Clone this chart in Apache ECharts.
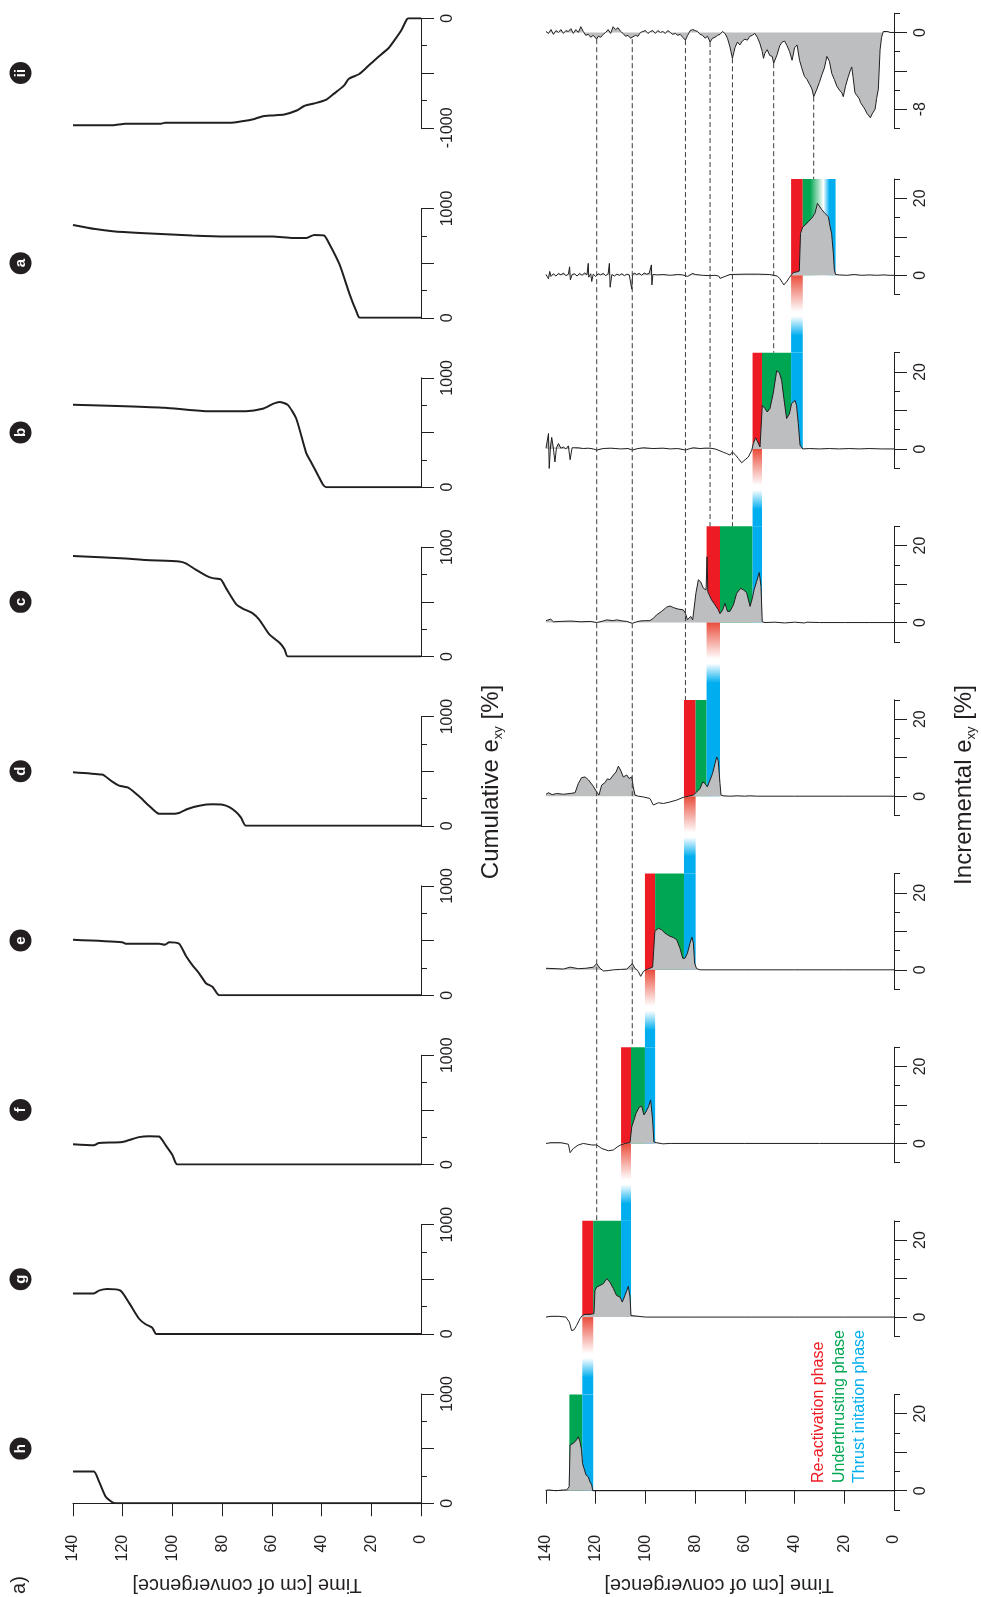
<!DOCTYPE html>
<html><head><meta charset="utf-8">
<script src="https://cdn.jsdelivr.net/npm/echarts@6/dist/echarts.min.js"></script>
<style>html,body{margin:0;padding:0;background:#fff}#c{width:981px;height:1597px}</style>
</head><body><div id="c"></div>
<script>
// ---------------- DATA ----------------
const panels = ['ii','a','b','c','d','e','f','g','h'];
const timeTicks = [0,20,40,60,80,100,120,140];

// cumulative exy [%]  ([time, value])
const cumII = [[140,-977],[124,-977],[119,-964],[105,-964],[103,-955],[77,-955],[72,-941],[67,-919],[64,-896],[60,-887],[55,-878],[50,-842],[47,-801],[43,-778],[38,-742],[35,-688],[31,-615],[29,-552],[25,-511],[22,-452],[19,-389],[16,-330],[13,-271],[10.5,-195],[7.8,-104],[5.8,-14],[5,0],[0,0]];
const cumA = [[140,850],[131,812],[124,792],[113,776],[92,753],[78.5,744],[59.6,744],[51.5,731],[46,731],[43,758],[39,753],[36.7,668],[32.7,484],[28.7,215],[26,58],[24.6,0],[0,0]];
const cumB = [[140,753],[119,740],[103,726],[86.5,695],[70.4,695],[63.7,717],[59.6,762],[56.9,780],[53.6,753],[50.2,628],[46.2,314],[44.1,224],[41.5,112],[39.4,22],[38.1,0],[0,0]];
const cumC = [[140,919],[118.8,897],[110.8,883],[97.3,870],[94.6,852],[90.6,794],[86.5,740],[83.8,717],[80.5,704],[78.5,628],[74.4,480],[71.7,439],[67.7,395],[65,336],[61,202],[56.9,126],[54.9,67],[53.6,0],[0,0]];
const cumD = [[140,491],[128.3,469],[126.9,452],[124.2,404],[121.5,368],[117.5,346],[113.5,272],[109.4,184],[105.4,110],[101.3,110],[97.3,118],[93.9,154],[89.2,184],[83.8,197],[79.8,193],[77.1,171],[74.4,127],[72.4,75],[70.4,0],[0,0]];
const cumE = [[140,507],[120.2,485],[118.8,471],[105.4,471],[103,462],[101.3,485],[97.3,471],[94.6,361],[91.9,273],[89.2,198],[86.5,110],[83.8,75],[81.2,0],[0,0]];
const cumF = [[140,185],[131.6,176],[129.6,198],[120.2,207],[113.5,251],[109.4,260],[105.4,256],[102.7,176],[100,88],[98,0],[0,0]];
const cumG = [[140,370],[131.6,370],[129.6,396],[126.2,410],[120.9,396],[117.5,286],[113.5,141],[110.8,88],[108.1,57],[106.5,0],[0,0]];
const cumH = [[140,291],[131.6,291],[129.6,203],[126.9,62],[124.2,9],[122.9,0],[0,0]];

// incremental exy [%]
const incII = [[140,0.1],[139,-0.1],[138,0.3],[137,-0.2],[136,0.2],[135,0.0],[134,0.3],[133,-0.1],[132,0.2],[131,0.1],[130,0.4],[129,-0.1],[128,0.3],[127,0.0],[126,0.6],[125,0.1],[124,-0.3],[123,-0.2],[122,-0.5],[121,-0.3],[119.6,-0.7],[119,-0.4],[118,-0.5],[117,-0.2],[116,0.0],[115,0.3],[114,-0.1],[113,0.6],[112,0.3],[111,0.5],[110,0.1],[109,-0.1],[108,-0.4],[107,-0.3],[106,-0.6],[105.3,-0.7],[104,-0.3],[103,-0.4],[102,0.0],[101,0.1],[100,0.2],[99,-0.1],[98,0.1],[97,0.2],[96,-0.1],[95,0.2],[94,0.0],[93,0.1],[92,-0.1],[91,0.2],[90,0.0],[89,-0.2],[88,-0.1],[87,-0.3],[86,-0.2],[85,-0.5],[83.9,-0.8],[83,-0.3],[82,0.2],[81,0.3],[80,0.2],[79,0.1],[78,-0.2],[77,-0.3],[76,-0.6],[75,-0.4],[74,-1.0],[73,-0.6],[72,-0.5],[71,-0.3],[70,-0.2],[69,0.1],[68,-0.1],[67,-0.6],[66,-1.5],[65,-2.7],[64,-1.6],[63,-1.0],[62,-1.3],[61,-0.9],[60,-0.7],[59,-0.8],[58,-0.4],[57,-0.3],[56,-0.1],[55,-0.5],[54,-1.1],[53,-2.0],[52.5,-2.7],[52,-2.2],[51,-1.8],[50,-2.4],[49,-2.5],[48.4,-3.2],[47,-2.3],[46,-1.4],[45,-1.0],[44,-0.9],[43,-1.4],[42,-2.0],[41,-2.9],[40,-1.6],[39,-1.3],[38,-2.9],[37,-3.8],[36,-4.6],[35,-4.9],[34,-5.4],[33,-5.9],[32.3,-6.7],[31,-5.9],[30,-5.2],[29,-4.4],[28,-3.7],[27,-2.5],[26.5,-2.3],[26,-3.0],[25,-4.3],[24,-4.9],[23,-5.6],[22,-6.0],[21,-6.3],[20.4,-6.7],[19.5,-5.6],[18.5,-4.7],[17.5,-3.9],[17,-3.6],[16.5,-4.6],[15.7,-6.3],[15,-6.5],[14,-6.9],[13.5,-7.3],[12.5,-7.7],[11.7,-8.0],[11,-8.4],[10.3,-8.3],[9.5,-8.9],[8.8,-8.5],[8.3,-8.7],[7.6,-8.0],[7.0,-6.9],[6.3,-5.9],[5.6,-1.8],[5.0,-0.5],[4.3,0.1],[3.6,0.2],[2.5,0.1],[1.6,0.0],[0.8,0.1],[0,0.0]];
const incA = [[140,0.2],[139,-0.9],[138.5,1.0],[138,-0.3],[137,0.4],[136,-0.2],[135,0.5],[134,0.1],[133,0.6],[132,-0.1],[131,0.3],[130.5,2.2],[130.2,-1.2],[129.5,0.2],[128.5,0.4],[127.5,-0.2],[126.5,0.5],[125.5,0.0],[124.5,0.6],[123.5,0.2],[123,3.1],[122.8,-0.5],[122,0.4],[121.6,-1.6],[121,0.3],[120,-0.3],[119,0.4],[118,0.1],[117,0.5],[116,-0.1],[115,0.4],[114.5,3.1],[114.2,-3.1],[113.5,0.2],[112.5,-0.2],[111.5,0.3],[110.5,0.0],[109.5,0.4],[108.5,-0.1],[107.5,0.3],[106.5,0.1],[105.7,0.3],[105.5,-3.6],[105.2,0.0],[104.5,0.6],[103.5,0.2],[102.5,0.5],[101.5,0.0],[100.5,0.6],[99.5,0.3],[98.5,0.5],[97.8,0.1],[97.6,2.7],[97.4,-2.5],[97,0.2],[95,0.1],[93,0.2],[90,0.0],[87,0.2],[85,0.1],[83,-0.3],[81,0.5],[80,0.2],[77,0.0],[74,-0.1],[72,0.0],[70.5,-0.2],[70,-0.8],[68,-0.3],[66,0.2],[60,0.3],[55,0.3],[50,0.2],[47,-0.2],[46,-0.8],[45,-1.8],[44.3,-2.5],[43,-1.5],[42,-0.5],[40.5,0.7],[39,0.9],[38.1,1.1],[37.6,10.9],[36.7,12.6],[35.8,13.0],[34.5,13.9],[33.1,14.8],[31.8,16.1],[30.8,18.7],[30,18.2],[29.1,17.1],[28.4,17.3],[27.8,16.1],[27,16.3],[26.4,15.2],[25.7,12.6],[25.1,10.9],[24.4,5.7],[24,1.4],[23.5,0.2],[22,0.1],[19,0.0],[16,0.2],[13,0.0],[10,0.1],[7,0.0],[4,0.1],[2,0.0],[0,0.0]];
const incB = [[140,0.2],[139,4.0],[138.7,-5.1],[138.2,0.5],[137.7,3.0],[137.1,0.5],[136.4,-3.4],[135.8,0.3],[135,1.4],[134,0.2],[133,0.5],[132,0.0],[131,0.8],[130.3,-2.8],[129.5,0.3],[129,0.0],[127,0.3],[125,0.1],[123,0.2],[121,0.0],[119.6,-0.3],[117,0.1],[114,0.2],[110,0.0],[107,0.1],[105.3,-0.3],[103,0.1],[100.8,0.3],[97,0.1],[93,0.2],[90,0.0],[87,0.1],[83.9,-0.3],[82,0.1],[80.7,0.3],[78,0.1],[76,0.2],[74,0.2],[72,0.0],[70,-0.5],[68.5,-0.9],[67.3,-1.2],[66,-1.6],[65,-0.8],[64,-1.4],[62.6,-2.5],[61.3,-3.6],[59.9,-2.8],[58.6,-2.1],[57.2,-0.3],[56.6,1.4],[55.7,2.9],[54.8,1.8],[53.9,0.5],[53.3,0.1],[53.0,11.3],[51.9,10.5],[51.0,9.6],[49.9,10.5],[48.6,14.4],[47.2,20.3],[46.1,19.8],[45.2,17.8],[44.3,13.1],[43.2,7.9],[42.1,9.1],[41.2,11.8],[39.8,12.6],[39.2,11.3],[38.5,6.6],[37.8,1.0],[36.7,0.0],[34,0.1],[30,0.0],[26,0.1],[22,0.0],[18,0.1],[14,0.0],[10,0.1],[5,0.0],[0,0.0]];
const incC = [[140,0.5],[138.1,0.9],[137,0.2],[134,0.3],[130,0.4],[126,0.2],[122,0.3],[119.6,0.0],[117,0.4],[115.6,0.7],[113,0.5],[111.6,0.7],[109,0.4],[107.5,0.3],[105.3,-0.2],[103.5,0.2],[102.2,0.4],[100,0.5],[98.2,0.5],[96.8,1.1],[95.5,2.0],[93.5,2.9],[91.5,4.0],[90.1,4.3],[88.8,3.9],[86.8,3.5],[84.8,3.3],[83.9,2.4],[83.1,0.7],[82.3,0.5],[81.8,1.6],[81.0,0.7],[80.5,3.3],[79.7,7.6],[78.7,11.1],[77.8,10.6],[76.7,8.9],[75.6,8.5],[75.2,17.1],[74.9,8.0],[73.4,5.9],[72.0,4.6],[70.7,3.3],[70.0,2.3],[68.9,3.3],[68.0,5.0],[67.0,2.9],[66.0,2.9],[64.6,4.6],[63.3,7.6],[61.7,8.9],[60.6,8.5],[59.3,7.8],[57.9,4.2],[57.0,6.3],[56.3,8.5],[55.3,10.6],[54.2,13.0],[53.5,9.4],[53.0,0.2],[51.9,0.0],[48,0.1],[44,-0.1],[40,0.1],[36,-0.1],[35,0.1],[30,0.0],[20,0.0],[10,0.0],[0,0.0]];
const incD = [[140,0.5],[139,0.9],[137.5,0.4],[135.7,0.7],[133,0.5],[130.3,0.7],[128.3,0.9],[127,3.3],[125.7,4.8],[124.3,5.0],[123,4.3],[121,2.6],[119.6,1.1],[118.7,0.3],[117.6,2.9],[116.3,3.5],[115.3,4.5],[114.3,4.3],[112.9,5.5],[111.8,6.3],[110.9,7.8],[110,6.8],[108.9,5.0],[107.5,5.5],[106.6,4.6],[105.5,5.0],[104.9,2.4],[104.2,0.3],[102.9,0.0],[100.8,-0.2],[98.2,-0.6],[96.8,-2.3],[96.2,-2.8],[94.8,-1.7],[92.8,-1.9],[90.1,-1.5],[87.4,-1.0],[84.8,-0.3],[82.7,0.0],[80.7,0.3],[79.4,1.1],[78,2.0],[77,3.7],[76,3.3],[75.1,2.4],[74,4.2],[73,5.9],[72,8.5],[71.3,10.2],[70.7,9.2],[70,3.3],[69.6,0.3],[68.7,0.1],[66,0.0],[63,0.1],[60,0.0],[58,0.1],[55,0.0],[40,0.0],[20,0.0],[0,0.0]];
const incE = [[140,0.4],[136,0.3],[133,0.2],[130.3,0.7],[127,0.3],[124,0.4],[121,0.7],[119.6,1.6],[118.3,0.4],[116.9,-0.3],[115,-0.2],[112.9,0.0],[110,0.1],[107.5,0.2],[105.3,1.6],[104.2,0.4],[102.9,-0.4],[101.9,-1.7],[100.8,-0.4],[99.8,0.0],[98.2,0.4],[97.1,0.7],[96.2,10.0],[94.8,10.8],[93.5,10.4],[92.1,9.5],[90.1,8.7],[88.8,8.4],[87.4,7.8],[86.1,5.6],[85.0,3.0],[84.1,3.0],[83.1,4.3],[82.1,6.9],[81.3,8.5],[80.7,6.9],[80.2,1.7],[79.4,0.3],[78,0.0],[70,0.0],[60,0.0],[40,0.0],[20,0.0],[0,0.0]];
const incF = [[140,0.0],[138,0.2],[134,0.2],[131,-0.2],[130.3,-2.4],[129,-1.3],[127,-0.4],[125,0.0],[121.6,-0.4],[119.6,-0.4],[117.6,-1.3],[114.9,-1.9],[112.9,-1.7],[111.3,-0.9],[110,-0.4],[108.2,0.0],[106.2,0.2],[105.5,4.3],[104.6,6.1],[103.8,7.8],[102.5,9.4],[101.5,9.7],[100.6,7.4],[99.8,8.2],[98.8,9.5],[97.9,11.3],[97.1,6.1],[96.6,0.4],[95.5,0.2],[93,-0.1],[90,0.0],[60,0.0],[30,0.0],[0,0.0]];
const incG = [[140,0.0],[138,0.2],[135,0.2],[132,0.0],[130.6,-1.3],[129.7,-3.5],[128.7,-3.3],[127.7,-2.2],[126.3,-0.4],[125.4,0.4],[124.3,0.7],[122.3,0.7],[120.7,0.9],[120.3,6.9],[119.6,7.8],[118.3,8.2],[116.9,8.7],[115.6,10.0],[114.3,9.1],[112.9,7.4],[111.6,5.6],[110.2,5.2],[109.3,3.9],[108.5,5.2],[107.5,6.9],[106.9,8.0],[106.2,5.2],[105.8,0.4],[105.4,0.0],[100,0.0],[80,0.0],[60,0.0],[40,0.0],[20,0.0],[0,0.0]];
const incH = [[140,0.1],[139.1,0.2],[136,0.0],[133,0.2],[131.7,0.2],[130.7,1.0],[130.3,11.9],[129.7,11.5],[129,12.3],[127.7,13.2],[127,14.0],[126.3,12.7],[125.7,10.6],[125.3,7.1],[124.7,5.8],[123.9,4.1],[123,3.6],[122.3,2.3],[121.6,1.5],[121.2,0.0],[110,0.0],[80,0.0],[40,0.0],[0,0.0]];

// phases: [from time, to time, phase]
const phaseA = [[41.4,36.7,'red'],[36.7,28.4,'greenFade'],[28.4,23.5,'blueFade']];
const phaseB = [[56.9,53.1,'red'],[53.1,41.4,'green'],[41.4,36.7,'blue']];
const phaseC = [[75.4,70.0,'red'],[70.0,56.9,'green'],[56.9,53.1,'blue']];
const phaseD = [[84.5,79.8,'red'],[79.8,75.4,'green'],[75.4,70.0,'blue']];
const phaseE = [[100.2,96.1,'red'],[96.1,84.5,'green'],[84.5,79.8,'blue']];
const phaseF = [[109.8,105.8,'red'],[105.8,100.2,'green'],[100.2,96.1,'blue']];
const phaseG = [[125.4,121.0,'red'],[121.0,109.8,'green'],[109.8,105.8,'blue']];
const phaseH = [[130.6,125.4,'green'],[125.4,121.0,'blue']];

// dashed correlation lines from panel ii
const dashT  = [119.6, 105.3, 83.9, 74.0, 65.0, 48.4, 32.3];
const dashV  = [-0.7, -0.7, -0.8, -1.0, -2.7, -3.2, -6.7];
const dashTo = ['g','f','d','c','c','b','a'];

const legendItems = ['Re-activation phase','Underthrusting phase','Thrust initation phase'];

// ---------------- STYLE / LAYOUT ----------------
const FONT = '"Liberation Sans", Arial, Helvetica, sans-serif';
const INK = '#231f20';
const RED = '#ed1c24', GREEN = '#00a651', BLUE = '#00aeef', GRAY = '#bcbec0';
const CUM = [cumII,cumA,cumB,cumC,cumD,cumE,cumF,cumG,cumH];
const INC = [incII,incA,incB,incC,incD,incE,incF,incG,incH];
const PH = [null,phaseA,phaseB,phaseC,phaseD,phaseE,phaseF,phaseG,phaseH];

const LX = 73, RX = 546, W = 348;
const leftTop = k => k === 0 ? 18.3 : 208.5 + (k - 1) * 169.35;
const leftH = k => k === 0 ? 109.5 : 109.3;
const RUNIT = 3.85, RSPACE = 173.63;
const rightTop = k => k === 0 ? 13.3 : 179.05 + (k - 1) * RSPACE;
const rightH = k => k === 0 ? 115 : 30 * RUNIT;

const grids = [], xAxes = [], yAxes = [], series = [];
const axisLineStyle = {color: INK, width: 1};
const labelBase = {color: INK, fontFamily: FONT, fontSize: 16, rotate: 90};

for (let col = 0; col < 2; col++) {
  for (let k = 0; k < 9; k++) {
    const gi = col * 9 + k;
    grids.push({left: col ? RX : LX, width: W, top: col ? rightTop(k) : leftTop(k), height: col ? rightH(k) : leftH(k)});
    xAxes.push({
      gridIndex: gi, type: 'value', min: 0, max: 140, interval: 20, inverse: true,
      show: k === 8, offset: (k === 8 && col === 0) ? 6.5 : 0,
      axisLine: {show: true, lineStyle: axisLineStyle},
      axisTick: {show: true, length: 13, lineStyle: axisLineStyle},
      axisLabel: Object.assign({}, labelBase, {margin: 25}),
      splitLine: {show: false}
    });
  }
}
// left y axes
for (let k = 0; k < 9; k++) {
  const ii = k === 0;
  yAxes.push({
    gridIndex: k, type: 'value', position: 'right',
    min: ii ? -1000 : 0, max: ii ? 0 : 1000, interval: 500,
    axisLine: {show: true, lineStyle: axisLineStyle},
    axisTick: {show: true, length: 13, lineStyle: axisLineStyle},
    minorTick: {show: true, splitNumber: 2, length: 6, lineStyle: axisLineStyle},
    axisLabel: Object.assign({}, labelBase, {margin: 19, formatter: v => (Math.abs(v) === 1000 || v === 0) ? String(v) : ''}),
    splitLine: {show: false}, minorSplitLine: {show: false}
  });
}
// right y axes (main)
for (let k = 0; k < 9; k++) {
  const ii = k === 0;
  yAxes.push({
    gridIndex: 9 + k, type: 'value', position: 'right',
    min: ii ? -10 : -5, max: ii ? 2 : 25, interval: ii ? 2 : 5,
    axisLine: {show: true, lineStyle: axisLineStyle},
    axisTick: {show: true, length: 13, lineStyle: axisLineStyle, customValues: ii ? [0,-4,-8] : [0,10,20]},
    axisLabel: Object.assign({}, labelBase, {margin: 19, customValues: ii ? [0,-8] : [0,20]}),
    splitLine: {show: false}
  });
}
// right y axes (short ticks overlay)
for (let k = 0; k < 9; k++) {
  const ii = k === 0;
  yAxes.push({
    gridIndex: 9 + k, type: 'value', position: 'right', offset: 0,
    min: ii ? -10 : -5, max: ii ? 2 : 25, interval: ii ? 2 : 5,
    axisLine: {show: false},
    axisTick: {show: true, length: 6, lineStyle: axisLineStyle, customValues: ii ? [2,-2,-6,-10] : [-5,5,15,25]},
    axisLabel: {show: false},
    splitLine: {show: false}
  });
}

// cumulative lines
for (let k = 0; k < 9; k++) {
  series.push({
    type: 'line', xAxisIndex: k, yAxisIndex: k, data: CUM[k], showSymbol: false, smooth: 0.2,
    lineStyle: {color: INK, width: 2}, z: 3, silent: true
  });
}

function phaseFill(p) {
  const G = echarts.graphic.LinearGradient;
  if (p === 'red') return RED;
  if (p === 'green') return GREEN;
  if (p === 'blue') return BLUE;
  if (p === 'greenFade') return new G(0,0,1,0,[{offset:0,color:GREEN},{offset:0.35,color:GREEN},{offset:1,color:'#ffffff'}]);
  if (p === 'blueFade') return new G(0,0,1,0,[{offset:0,color:'#ffffff'},{offset:0.5,color:BLUE},{offset:1,color:BLUE}]);
}

// phase bars + gradient strips
for (let k = 1; k < 9; k++) {
  const gi = 9 + k;
  const ph = PH[k];
  series.push({
    type: 'custom', xAxisIndex: gi, yAxisIndex: gi, z: 1, silent: true,
    data: ph.map(p => [p[0], p[1]]),
    renderItem: (params, api) => {
      const p = ph[params.dataIndex];
      const a = api.coord([p[0], 25]), b = api.coord([p[1], 0]);
      return {type: 'rect', shape: {x: a[0], y: a[1], width: b[0] - a[0], height: b[1] - a[1]}, style: {fill: phaseFill(p[2])}};
    }
  });
  const red = ph.find(p => p[2] === 'red');
  if (red && k < 8) {
    const vBottom = 25 - RSPACE / RUNIT; // next panel's top, in this panel's scale
    series.push({
      type: 'custom', xAxisIndex: gi, yAxisIndex: gi, z: 1, silent: true, clip: false,
      data: [[red[0], red[1]]],
      renderItem: (params, api) => {
        const a = api.coord([api.value(0), 0]), b = api.coord([api.value(1), vBottom]);
        return {type: 'rect', shape: {x: a[0], y: a[1], width: b[0] - a[0], height: b[1] - a[1]},
          style: {fill: new echarts.graphic.LinearGradient(0,0,0,1,[
            {offset:0,color:'#ea4d3c'},{offset:0.47,color:'#ffffff'},{offset:0.53,color:'#ffffff'},{offset:0.78,color:BLUE},{offset:1,color:BLUE}])}};
      }
    });
  }
}

// incremental area + line
for (let k = 0; k < 9; k++) {
  const gi = 9 + k;
  const areaData = k === 0 ? INC[k] : INC[k].map(d => [d[0], Math.max(0, d[1])]);
  series.push({
    type: 'line', xAxisIndex: gi, yAxisIndex: gi, data: areaData, showSymbol: false, z: 2, silent: true,
    lineStyle: {width: 0, opacity: 0}, areaStyle: {color: GRAY, opacity: 1, origin: 0}
  });
  series.push({
    type: 'line', xAxisIndex: gi, yAxisIndex: gi, data: INC[k], showSymbol: false, z: 3, silent: true,
    lineStyle: {color: INK, width: 1}
  });
}

// dashed lines
const iiTopPx = rightTop(0), iiUnitPx = rightH(0) / 12;
series.push({
  type: 'custom', xAxisIndex: 9, yAxisIndex: 9, z: 4, silent: true, clip: false,
  data: dashT.map((t, i) => [t, dashV[i]]),
  renderItem: (params, api) => {
    const i = params.dataIndex;
    const tgt = panels.indexOf(dashTo[i]);
    const vEnd = 2 - (rightTop(tgt) - iiTopPx) / iiUnitPx;
    const a = api.coord([api.value(0), api.value(1)]), b = api.coord([api.value(0), vEnd]);
    return {type: 'line', shape: {x1: a[0], y1: a[1], x2: b[0], y2: b[1]}, style: {stroke: '#3a3a3a', lineWidth: 1, lineDash: [5, 3]}};
  }
});

// ---------------- TEXT ----------------
const graphic = [];
for (let k = 0; k < 9; k++) {
  const cy = leftTop(k) + leftH(k) / 2;
  graphic.push({type: 'circle', shape: {cx: 20.5, cy: cy, r: 11}, style: {fill: INK}});
  graphic.push({type: 'text', x: 20.5, y: cy, rotation: Math.PI / 2,
    style: {text: panels[k], fill: '#fff', font: 'bold 15px ' + FONT, align: 'center', verticalAlign: 'middle', textAlign: 'center', textVerticalAlign: 'middle'}});
}
function axisTitle(x, y, word) {
  return {type: 'text', x: x, y: y, rotation: Math.PI / 2,
    style: {text: '{n|' + word + ' e}{s|xy}{n| [%]}', align: 'center', verticalAlign: 'middle', textAlign: 'center', textVerticalAlign: 'middle',
      rich: {n: {fontSize: 24, fontFamily: FONT, fill: INK, lineHeight: 28, verticalAlign: 'middle'},
             s: {fontSize: 13, fontFamily: FONT, fill: INK, lineHeight: 28, verticalAlign: 'bottom', padding: [13, 0, 0, 0]}}}};
}
graphic.push(axisTitle(491, 782, 'Cumulative'));
graphic.push(axisTitle(964, 785, 'Incremental'));
[247, 719].forEach(x => graphic.push({type: 'text', x: x, y: 1585, rotation: Math.PI,
  style: {text: 'Time [cm of convergence]', fill: INK, font: '20px ' + FONT, align: 'center', verticalAlign: 'middle', textAlign: 'center', textVerticalAlign: 'middle'}}));
graphic.push({type: 'text', x: 19, y: 1585, rotation: Math.PI / 2,
  style: {text: 'a)', fill: INK, font: '20px ' + FONT, align: 'center', verticalAlign: 'middle', textAlign: 'center', textVerticalAlign: 'middle'}});
const legendColors = [RED, GREEN, BLUE];
legendItems.forEach((t, i) => graphic.push({type: 'text', x: 819 + i * 20.5, y: 1483, rotation: Math.PI / 2,
  style: {text: t, fill: legendColors[i], font: '16px ' + FONT, align: 'left', verticalAlign: 'middle', textAlign: 'left', textVerticalAlign: 'middle'}}));

const chart = echarts.init(document.getElementById('c'), null, {renderer: 'canvas', width: 981, height: 1597});
chart.setOption({
  animation: false, backgroundColor: '#fff',
  grid: grids, xAxis: xAxes, yAxis: yAxes, series: series, graphic: graphic
});
</script></body></html>
